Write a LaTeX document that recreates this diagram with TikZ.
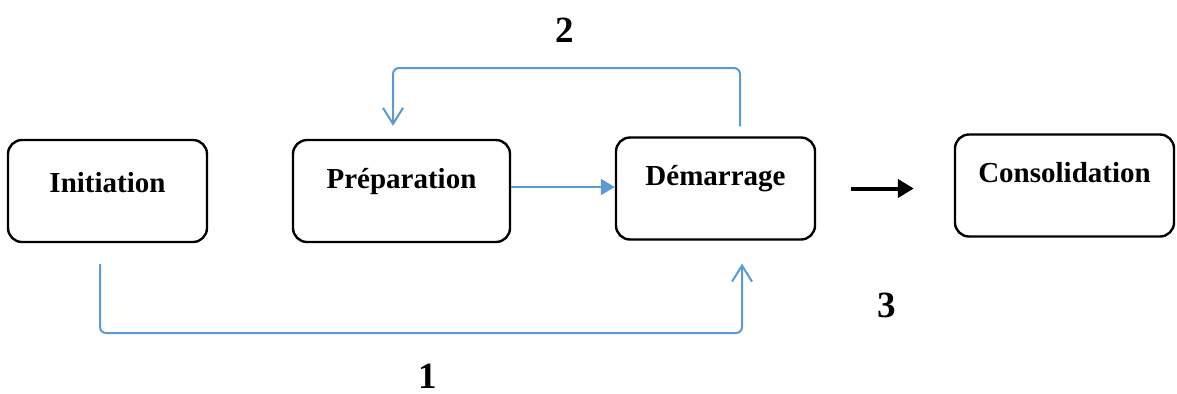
\documentclass[tikz,border=0pt]{standalone}
\usepackage{fontspec}
\setmainfont{Liberation Serif}
\usetikzlibrary{arrows.meta}
\definecolor{bleu}{RGB}{91,155,213}

\begin{document}
\begin{tikzpicture}[x=0.5pt,y=-0.5pt,
	etape/.style={draw,line width=1.2pt,rounded corners=7pt,inner sep=0pt,minimum height=51pt,text height=24pt,text depth=27pt,font=\fontsize{14.5}{17}\selectfont\bfseries},
	boucle/.style={draw=bleu,line width=1pt,rounded corners=3pt,-{Straight Barb[length=8pt,width=10pt]}},
	numero/.style={inner sep=0pt,font=\fontsize{18.5}{22}\selectfont\bfseries}]
\useasboundingbox (0,0) rectangle (1177,393);
% les etapes
\node[etape,minimum width=99.5pt,text height=26pt,text depth=25pt] (init) at (107.5,191) {Initiation};
\node[etape,minimum width=108.5pt] (prep) at (401.5,191) {Préparation};
\node[etape,minimum width=99.5pt] (dem) at (715.5,188.5) {Démarrage};
\node[etape,minimum width=109.5pt] (cons) at (1064.5,185.5) {Consolidation};
% fleches
\draw[draw=bleu,line width=1pt,-{Triangle[length=7pt,width=8pt]}] ([yshift=2pt]prep.east) -- ([yshift=0.75pt]dem.west);
\draw[line width=2pt,-{Triangle[length=8pt,width=9pt]},shorten <=17.5pt,shorten >=20pt] (dem.east) -- (dem.east -| cons.west);
% boucles
\coordinate (d2) at ([xshift=12.25pt,yshift=5pt]dem.north);
\coordinate (p2) at ([xshift=-4.25pt,yshift=6.5pt]prep.north);
\coordinate (h2) at (0,68);
\draw[boucle] (d2) |- (h2 -| p2) -- (p2);
\coordinate (i1) at ([xshift=-3.75pt,yshift=-10.5pt]init.south);
\coordinate (d1) at ([xshift=13.25pt,yshift=-11.5pt]dem.south);
\coordinate (h1) at (0,333);
\draw[boucle] (i1) |- (h1 -| d1) -- (d1);
% numeros
\node[numero] (n2) at (565,30) {2};
\node[numero] (n1) at (428,376) {1};
\node[numero] (n3) at (887,305) {3};
\end{tikzpicture}
\end{document}
